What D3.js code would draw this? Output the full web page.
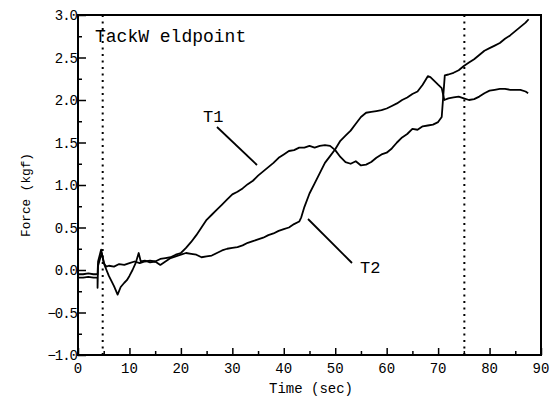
<!DOCTYPE html>
<html>
<head>
<meta charset="utf-8">
<script src="https://cdn.jsdelivr.net/npm/d3@7/dist/d3.min.js"></script>
<style>
  body { margin: 0; background: #fff; }
  text { font-family: "Liberation Mono", monospace; fill: #000; }
</style>
</head>
<body>
<div id="chart"></div>
<script>
"use strict";
// data
const t1Time = [0, 1, 2, 3, 3.8, 3.9, 4.5, 5, 5.5, 6, 7, 8, 9, 10, 11, 12, 13, 14, 15, 16, 17, 18, 19, 20,
    21, 22, 23, 24, 25, 26, 27, 28, 29, 30, 31, 32, 33, 34, 35, 36, 37, 38, 39, 40, 41, 42, 43, 44, 45,
    46, 47, 48, 49, 50, 51, 52, 53, 54, 55, 56, 57, 58, 59, 60, 61, 62, 63, 64, 65, 66, 67, 68, 69, 70,
    70.7, 71.3, 72, 73, 74, 75, 76, 77, 78, 79, 80, 81, 82, 83, 84, 85, 86, 87, 87.6];
const t1Force = [-0.05, -0.05, -0.04, -0.05, -0.05, 0.10, 0.24, 0.08, 0.04, 0.05, 0.04, 0.07, 0.06, 0.08, 0.10, 0.08, 0.10, 0.11, 0.10, 0.13, 0.14, 0.15, 0.18, 0.20,
    0.26, 0.33, 0.41, 0.50, 0.59, 0.65, 0.71, 0.77, 0.83, 0.89, 0.92, 0.96, 1.01, 1.05, 1.11, 1.16, 1.21, 1.26, 1.32, 1.36, 1.40, 1.41, 1.44, 1.44, 1.46,
    1.44, 1.46, 1.47, 1.46, 1.41, 1.33, 1.27, 1.25, 1.28, 1.23, 1.24, 1.27, 1.32, 1.36, 1.38, 1.43, 1.50, 1.56, 1.60, 1.66, 1.65, 1.69, 1.70, 1.71, 1.74,
    1.80, 2.29, 2.30, 2.32, 2.35, 2.40, 2.44, 2.48, 2.53, 2.58, 2.61, 2.64, 2.67, 2.72, 2.76, 2.81, 2.86, 2.91, 2.95];

const t2Time = [0, 1, 2, 3, 3.8, 3.8, 3.9, 4.6, 5.2, 6, 7, 7.7, 8.3, 9, 9.5, 10, 10.6, 11.2, 11.8, 12.2, 13, 14, 15, 16, 17, 18, 19, 20,
    21, 22, 23, 24, 25, 26, 27, 28, 29, 30, 31, 32, 33, 34, 35, 36, 37, 38, 39, 40, 41, 42, 43, 43.4, 44, 45,
    46, 47, 48, 49, 50, 51, 52, 53, 54, 55, 56, 57, 58, 59, 60, 61, 62, 63, 64, 65, 66, 67, 68, 68.5, 69, 70,
    70.7, 71.2, 72, 73, 74, 75, 76, 77, 78, 79, 80, 81, 82, 83, 84, 85, 86, 87, 87.5];
const t2Force = [-0.09, -0.09, -0.08, -0.09, -0.09, -0.21, 0.05, 0.20, 0.05, -0.07, -0.19, -0.29, -0.20, -0.15, -0.12, -0.07, 0.00, 0.08, 0.20, 0.10, 0.11, 0.09, 0.10, 0.06, 0.10, 0.14, 0.16, 0.18,
    0.20, 0.19, 0.18, 0.15, 0.16, 0.17, 0.20, 0.23, 0.25, 0.26, 0.27, 0.29, 0.32, 0.34, 0.36, 0.38, 0.41, 0.43, 0.46, 0.48, 0.50, 0.54, 0.57, 0.62, 0.74, 0.90,
    1.02, 1.14, 1.26, 1.34, 1.42, 1.52, 1.58, 1.64, 1.72, 1.80, 1.85, 1.86, 1.87, 1.88, 1.90, 1.93, 1.96, 2.00, 2.03, 2.07, 2.10, 2.18, 2.28, 2.27, 2.24, 2.18,
    2.14, 2.00, 2.02, 2.03, 2.04, 2.02, 2.00, 2.01, 2.04, 2.08, 2.11, 2.12, 2.13, 2.13, 2.12, 2.12, 2.12, 2.10, 2.08];

const xTicks = [0, 10, 20, 30, 40, 50, 60, 70, 80, 90];
const yTicks = [-1.0, -0.5, 0.0, 0.5, 1.0, 1.5, 2.0, 2.5, 3.0];
const tackWeldTimes = [4.8, 75.1];

const width = 560;
const height = 405;
const margin = { left: 78, right: 19, top: 15, bottom: 50 };

const x = d3.scaleLinear().domain([0, 90]).range([margin.left, width - margin.right]);
const y = d3.scaleLinear().domain([-1, 3]).range([height - margin.bottom, margin.top]);

const svg = d3.select('#chart').append('svg')
    .attr('width', width)
    .attr('height', height);

// dotted tack weld markers
svg.selectAll('.weld')
    .data(tackWeldTimes)
    .enter().append('line')
    .attr('x1', d => x(d)).attr('x2', d => x(d))
    .attr('y1', y(3)).attr('y2', y(-1))
    .attr('stroke', '#000')
    .attr('stroke-width', 2)
    .attr('stroke-dasharray', '2,4.5');

// frame
svg.append('rect')
    .attr('x', x(0)).attr('y', y(3))
    .attr('width', x(90) - x(0)).attr('height', y(-1) - y(3))
    .attr('fill', 'none').attr('stroke', '#000').attr('stroke-width', 2);

// axes with inward ticks
const xAxis = svg.append('g')
    .attr('transform', `translate(0,${y(-1)})`)
    .call(d3.axisTop(x).tickValues(d3.range(0, 91, 5)).tickSize(7).tickFormat(''));
xAxis.selectAll('.tick line').attr('y2', d => d % 10 === 0 ? -7 : -4).attr('stroke-width', 1.5);
xAxis.select('.domain').remove();

const yAxis = svg.append('g')
    .attr('transform', `translate(${x(0)},0)`)
    .call(d3.axisRight(y).tickValues(d3.range(-1, 3.01, 0.25)).tickSize(7).tickFormat(''));
yAxis.selectAll('.tick line').attr('x2', d => Math.abs(d * 2 - Math.round(d * 2)) < 1e-6 ? 8 : 4).attr('stroke-width', 1.5);
yAxis.select('.domain').remove();

// tick labels
svg.selectAll('.xlab')
    .data(xTicks)
    .enter().append('text')
    .attr('x', d => x(d))
    .attr('y', 373)
    .attr('text-anchor', 'middle')
    .attr('font-size', 14)
    .text(d => d);

svg.selectAll('.ylab')
    .data(yTicks)
    .enter().append('text')
    .attr('x', x(0) - 1)
    .attr('y', d => y(d) + 5)
    .attr('text-anchor', 'end')
    .attr('font-size', 14)
    .attr('letter-spacing', -1)
    .text(d => d3.format('.1f')(d));

// axis titles
svg.append('text')
    .attr('x', 311).attr('y', 393)
    .attr('text-anchor', 'middle')
    .attr('font-size', 14)
    .text('Time (sec)');

svg.append('text')
    .attr('transform', 'translate(30,195) rotate(-90)')
    .attr('text-anchor', 'middle')
    .attr('font-size', 12.7)
    .text('Force (kgf)');

// curves
const line = d3.line()
    .x(d => x(d[0]))
    .y(d => y(d[1]));

[[t1Time, t1Force], [t2Time, t2Force]].forEach(([ts, vs]) => {
    svg.append('path')
        .datum(ts.map((t, i) => [t, vs[i]]))
        .attr('d', line)
        .attr('fill', 'none')
        .attr('stroke', '#000')
        .attr('stroke-width', 1.8)
        .attr('stroke-linejoin', 'round');
});

// annotations
svg.append('text')
    .attr('x', 95).attr('y', 42)
    .attr('font-size', 18)
    .text('TackW eldpoint');

svg.append('text')
    .attr('x', 203).attr('y', 122)
    .attr('font-size', 17)
    .text('T1');
svg.append('line')
    .attr('x1', 217).attr('y1', 127).attr('x2', 257).attr('y2', 165)
    .attr('stroke', '#000').attr('stroke-width', 1.8);

svg.append('text')
    .attr('x', 360).attr('y', 273)
    .attr('font-size', 17)
    .text('T2');
svg.append('line')
    .attr('x1', 308).attr('y1', 219).attr('x2', 352).attr('y2', 263)
    .attr('stroke', '#000').attr('stroke-width', 1.8);
</script>
</body>
</html>
